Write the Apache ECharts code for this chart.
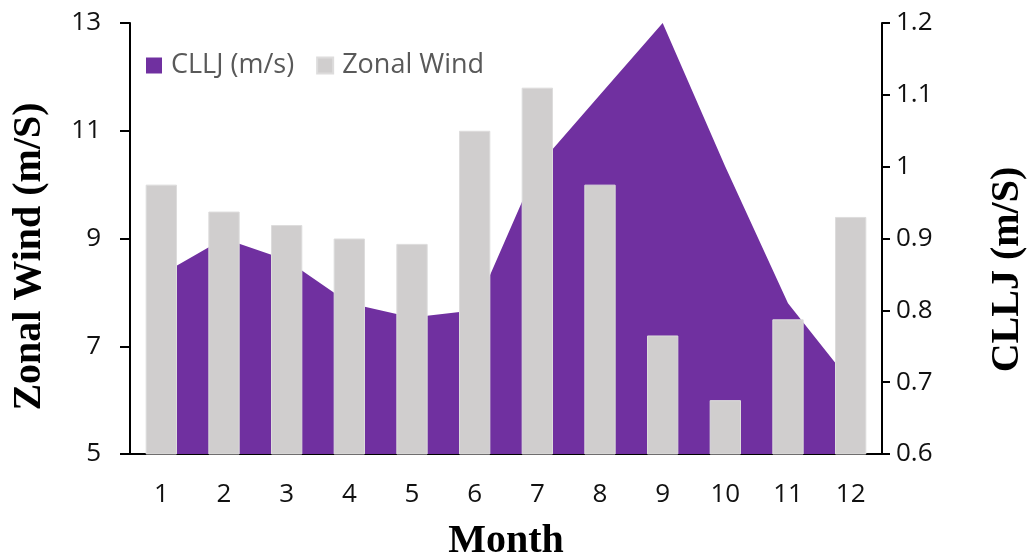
<!DOCTYPE html>
<html>
<head>
<meta charset="utf-8">
<script src="https://cdn.jsdelivr.net/npm/echarts@6/dist/echarts.min.js"></script>
<style>
  html, body { margin: 0; padding: 0; background: #fff; }
  #chart { width: 1028px; height: 556px; }
</style>
</head>
<body>
<div id="chart"></div>
<script>
// Monthly climatology: zonal wind (bars, left axis) and CLLJ (area, right axis)
const months = ['1', '2', '3', '4', '5', '6', '7', '8', '9', '10', '11', '12'];
const zonalWind = [10.0, 9.5, 9.25, 9.0, 8.9, 11.0, 11.8, 10.0, 7.2, 6.0, 7.5, 9.4];
const cllj = [0.85, 0.90, 0.87, 0.81, 0.79, 0.80, 1.00, 1.10, 1.20, 1.00, 0.81, 0.70];

const sansFamily = '"Open Sans", "Liberation Sans", sans-serif';
const tickFont = { fontFamily: sansFamily, fontSize: 26, color: '#111' };
const titleFont = { fontFamily: '"Liberation Serif", "Times New Roman", serif', fontWeight: 'bold', fontSize: 40, color: '#000' };

const chart = echarts.init(document.getElementById('chart'), null, { renderer: 'canvas' });

chart.setOption({
  animation: false,
  backgroundColor: '#fff',
  grid: { left: 130, right: 146, top: 23, bottom: 102, containLabel: false, outerBoundsMode: 'none' },
  legend: {
    left: 141,
    top: 47,
    icon: 'rect',
    itemWidth: 16,
    itemHeight: 16,
    itemGap: 22,
    textStyle: { fontFamily: sansFamily, fontSize: 27, color: '#595959', padding: [0, 0, 0, 4] },
    data: ['CLLJ (m/s)', 'Zonal Wind']
  },
  xAxis: {
    type: 'category',
    data: months,
    boundaryGap: true,
    name: 'Month',
    nameLocation: 'middle',
    nameGap: 68,
    nameTextStyle: titleFont,
    axisLine: { lineStyle: { color: '#000', width: 2 } },
    axisTick: { show: false },
    axisLabel: Object.assign({ margin: 28 }, tickFont),
    splitLine: { show: false }
  },
  yAxis: [
    {
      type: 'value',
      min: 5,
      max: 13,
      interval: 2,
      name: 'Zonal Wind (m/S)',
      nameLocation: 'middle',
      nameGap: 80,
      nameTextStyle: Object.assign({ padding: [0, 36, 0, 0] }, titleFont),
      axisLine: { show: true, lineStyle: { color: '#000', width: 2 } },
      axisTick: { show: true, length: 10, lineStyle: { color: '#000', width: 2 } },
      axisLabel: Object.assign({ margin: 29 }, tickFont),
      splitLine: { show: false }
    },
    {
      type: 'value',
      position: 'right',
      min: 0.6,
      max: 1.2,
      interval: 0.1,
      name: 'CLLJ (m/S)',
      nameLocation: 'middle',
      nameGap: 106,
      nameTextStyle: Object.assign({ padding: [0, 62, 0, 0] }, titleFont),
      axisLine: { show: true, lineStyle: { color: '#000', width: 2 } },
      axisTick: { show: true, length: 8, lineStyle: { color: '#000', width: 2 } },
      axisLabel: Object.assign({ margin: 14, formatter: v => String(+v.toFixed(1)) }, tickFont),
      splitLine: { show: false }
    }
  ],
  series: [
    {
      name: 'CLLJ (m/s)',
      type: 'line',
      yAxisIndex: 1,
      data: cllj,
      symbol: 'none',
      z: 1,
      color: '#7030A0',
      lineStyle: { width: 0 },
      areaStyle: { color: '#7030A0', opacity: 1 }
    },
    {
      name: 'Zonal Wind',
      type: 'bar',
      yAxisIndex: 0,
      data: zonalWind,
      barWidth: '50%',
      z: 3,
      itemStyle: { color: '#D0CECE', borderColor: '#DDDCDC', borderWidth: 1 }
    }
  ]
});
</script>
</body>
</html>
